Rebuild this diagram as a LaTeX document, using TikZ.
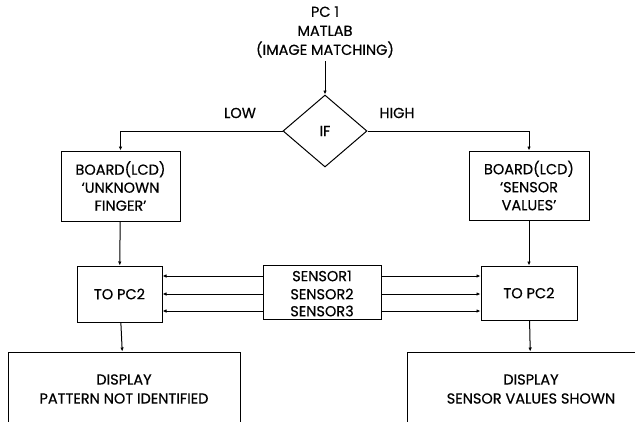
\documentclass[tikz,border=0pt]{standalone}
\usepackage{fontspec}
\setmainfont{Poppins}[FakeBold=0.5]
\usetikzlibrary{shapes.geometric, arrows.meta}

\begin{document}
\begin{tikzpicture}[x=1pt, y=-1pt, line width=1pt,
  font=\fontsize{14.5}{19}\selectfont,
  box/.style = {draw, align=center, inner sep=0pt},
  arr/.style = {-{Latex[length=4pt, width=3.5pt]}}]
\clip (0,0) rectangle (635,421);
% top of the chart
\node[align=center] (pc1) at (325,32) {PC 1\\MATLAB\\(IMAGE MATCHING)};
\node[draw, diamond, minimum width=84, minimum height=72, inner sep=0pt] (if) at (325,131) {IF};
\node (low) at (240,113) {LOW};
\node (high) at (397,113) {HIGH};
% boards
\node[box, minimum width=119, minimum height=70, font=\fontsize{14.5}{18}\selectfont] (lboard) at (120.5,186) {BOARD(LCD)\\`UNKNOWN\\FINGER'};
\node[box, minimum width=120, minimum height=69, font=\fontsize{14.5}{18}\selectfont] (rboard) at (529,185.5) {BOARD(LCD)\\`SENSOR\\VALUES'};
% to pc2 and sensors
\node[box, minimum width=85, minimum height=56] (lpc) at (119.5,294) {TO PC2};
\node[box, minimum width=96, minimum height=54] (rpc) at (529,293) {TO PC2};
\node[box, minimum width=118, minimum height=54] (sensors) at (322,292) {};
\node (s1) at (322,276) {SENSOR1};
\node (s2) at (322,294) {SENSOR2};
\node (s3) at (322,311) {SENSOR3};
% displays
\node[box, minimum width=232, minimum height=74] (ldisp) at (124,389) {DISPLAY\\PATTERN NOT IDENTIFIED};
\node[box, minimum width=248, minimum height=74] (rdisp) at (531,389) {DISPLAY\\SENSOR VALUES SHOWN};

\draw[arr] (pc1) -- (if);
\draw[arr] (if.west) -| (lboard.north);
\draw[arr] (if.east) -| (rboard.north);
\draw[arr] (lboard) -- (lpc);
\draw[arr] (rboard) -- (rpc);
\foreach \s in {s1,s2,s3} {
  \draw[arr] (sensors.west |- \s) -- (lpc.east |- \s);
  \draw[arr] (sensors.east |- \s) -- (rpc.west |- \s);
}
\draw[arr] (lpc) -- (ldisp);
\draw[arr] (rpc) -- (rdisp);
\end{tikzpicture}
\end{document}
